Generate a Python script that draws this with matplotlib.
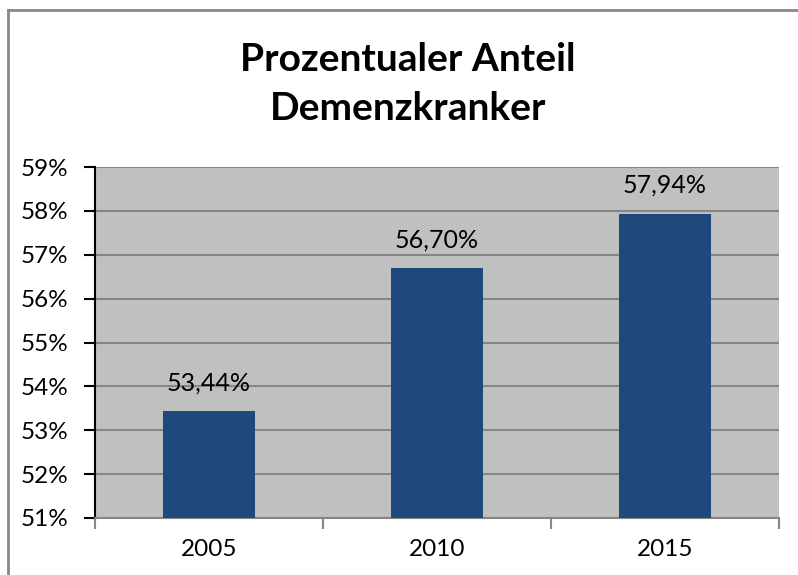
import matplotlib
matplotlib.use("Agg")
import matplotlib.pyplot as plt
from matplotlib.lines import Line2D
from matplotlib.ticker import FixedLocator

years = ["2005", "2010", "2015"]
values = [53.44, 56.70, 57.94]
labels = ["53,44%", "56,70%", "57,94%"]
yticks = [51, 52, 53, 54, 55, 56, 57, 58, 59]
ytick_labels = ["51%", "52%", "53%", "54%", "55%", "56%", "57%", "58%", "59%"]
title = "Prozentualer Anteil\nDemenzkranker"

plt.rcParams['font.family'] = ['Lato', 'DejaVu Sans']

fig = plt.figure(figsize=(7.98, 5.75), dpi=100)
ax = fig.add_axes([95/798, 57/575, 684/798, 351/575])
ax.set_facecolor("#C0C0C0")

x = list(range(len(years)))
ax.bar(x, values, width=0.4, color="#1F497D", zorder=3)
ax.set_xlim(-0.5, len(years) - 0.5)
ax.set_ylim(51, 59)

ax.set_yticks(yticks)
ax.set_yticklabels(ytick_labels, fontsize=17.5)
ax.yaxis.grid(True, color="#868686", linewidth=1.5, zorder=1)
ax.set_axisbelow(True)

ax.set_xticks(x)
ax.set_xticklabels(years, fontsize=17.5)
ax.tick_params(axis='x', which='major', length=0, pad=15)
ax.xaxis.set_minor_locator(FixedLocator([-0.5, 0.5, 1.5, 2.5]))
ax.tick_params(axis='x', which='minor', length=8, width=1.5, color="#868686")
ax.tick_params(axis='y', length=8, width=1.5, color="black", pad=11)

for s in ["top", "right"]:
    ax.spines[s].set_visible(False)
ax.spines["left"].set_color("black")
ax.spines["left"].set_linewidth(1.5)
ax.spines["bottom"].set_color("#868686")
ax.spines["bottom"].set_linewidth(1.5)

for xi, v, lab in zip(x, values, labels):
    ax.annotate(lab, (xi, v), xytext=(0, 12), textcoords="offset points",
                ha="center", va="bottom", fontsize=18)

fig.text(408/798, 1 - 84/575, title, ha="center", va="center",
         fontsize=28, fontweight="bold", linespacing=1.45)

fig.add_artist(Line2D([8/798, 8/798], [0, 1 - 10/575], transform=fig.transFigure,
                      color="#888888", linewidth=2))
fig.add_artist(Line2D([8/798, 1], [1 - 10/575, 1 - 10/575], transform=fig.transFigure,
                      color="#888888", linewidth=2))

fig.savefig("out.png", dpi=100)
